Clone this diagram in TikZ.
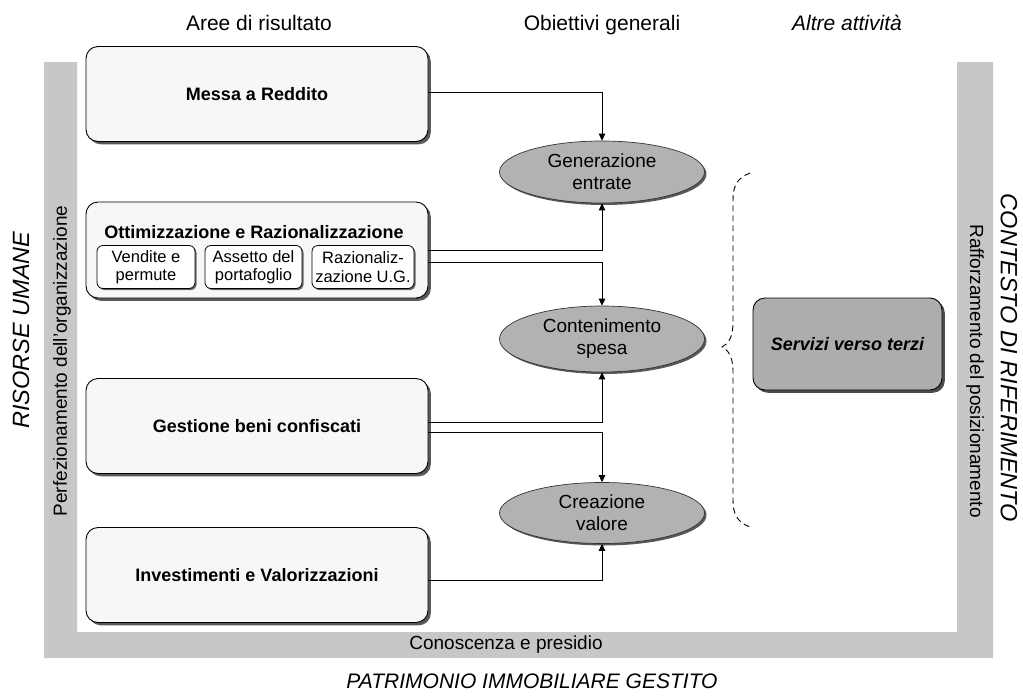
\documentclass[tikz,border=0pt]{standalone}
\usepackage{fontspec}
\setmainfont{Liberation Sans}
\usetikzlibrary{shapes.geometric,arrows.meta,shadows,calc}
\definecolor{bandgray}{gray}{0.78}
\definecolor{ellgray}{gray}{0.70}
\definecolor{boxgray}{gray}{0.68}
\definecolor{boxwhite}{gray}{0.97}
\tikzset{
  area/.style={draw=black, line width=0.9pt, rounded corners=12pt, fill=boxwhite,
    minimum width=342pt, inner sep=0pt,
    drop shadow={shadow xshift=2.8pt, shadow yshift=-2.8pt, fill=black!65, opacity=1},
    font=\fontsize{18}{20}\selectfont\bfseries},
  subbox/.style={draw=black, line width=0.8pt, rounded corners=6pt, fill=white,
    minimum height=43pt, inner sep=0pt, align=center,
    drop shadow={shadow xshift=1.6pt, shadow yshift=-1.6pt, fill=black!60, opacity=1},
    font=\fontsize{16.5}{18.5}\selectfont},
  goal/.style={ellipse, draw=black!80, line width=0.7pt, fill=ellgray, minimum width=205pt,
    inner sep=0pt, align=center,
    drop shadow={shadow xshift=2pt, shadow yshift=-2pt, fill=black!65, opacity=1},
    font=\fontsize{19}{22}\selectfont},
  header/.style={anchor=base, font=\fontsize{21}{23}\selectfont},
  side/.style={font=\fontsize{23.5}{26}\selectfont\itshape},
  bandtext/.style={font=\fontsize{19}{21}\selectfont},
  conn/.style={draw=black, line width=1pt, -{Triangle[length=7pt,width=6.5pt]}},
  bracket/.style={draw=black, line width=0.9pt, dash pattern=on 6pt off 4pt}
}
\begin{document}
\begin{tikzpicture}[x=1pt,y=-1pt]
\useasboundingbox (0,0) rectangle (1023,697);
\fill[white] (0,0) rectangle (1023,697);
% U-shaped band
\fill[bandgray] (44,62) -- (77,62) -- (77,632) -- (957,632) -- (957,62) -- (993,62) -- (993,658) -- (44,658) -- cycle;
\node[bandtext, rotate=90] (perf) at (62,361) {Perfezionamento dell'organizzazione};
\node[bandtext, rotate=-90] (raff) at (975,371) {Rafforzamento del posizionamento};
\node[bandtext] (cono) at (506,645) {Conoscenza e presidio};
\node[side, rotate=90] (risorse) at (21,330) {RISORSE UMANE};
\node[side, rotate=-90] (contesto) at (1009,358) {CONTESTO DI RIFERIMENTO};
\node[side, font=\fontsize{21}{23}\selectfont\itshape] (patr) at (532,681) {PATRIMONIO IMMOBILIARE GESTITO};
% headers
\node[header] (h1) at (259,30) {Aree di risultato};
\node[header] (h2) at (602,30) {Obiettivi generali};
\node[header, font=\fontsize{21}{23}\selectfont\itshape] (h3) at (847,30) {Altre attività};
% area boxes
\node[area, minimum height=95pt] (messa) at (257,94) {Messa a Reddito};
\node[area, minimum height=96pt] (ott) at (257,250) {};
\node[font=\fontsize{18}{20}\selectfont\bfseries] (otttitle) at (254,232) {Ottimizzazione e Razionalizzazione};
\node[subbox, minimum width=98pt] (vend) at (146,267) {Vendite e\\permute};
\node[subbox, minimum width=97pt] (asset) at (253.5,267) {Assetto del\\portafoglio};
\node[subbox, minimum width=102pt] (razio) at (363,267) {Razionaliz-\\zazione U.G.};
\node[area, minimum height=95pt] (gest) at (257,426) {Gestione beni confiscati};
\node[area, minimum height=95pt] (inv) at (257,575) {Investimenti e Valorizzazioni};
% goals
\node[goal, minimum height=62pt] (gen) at (602,172) {Generazione\\entrate};
\node[goal, minimum height=66pt] (cont) at (602,339) {Contenimento\\spesa};
\node[goal, minimum height=61pt] (crea) at (602,513) {Creazione\\valore};
% other activities
\node[draw=black, line width=0.9pt, rounded corners=12pt, fill=boxgray,
  minimum width=189pt, minimum height=92pt,
  drop shadow={shadow xshift=2.8pt, shadow yshift=-2.8pt, fill=black!70, opacity=1},
  font=\fontsize{18}{20}\selectfont\bfseries\itshape] (serv) at (847.5,344) {Servizi verso terzi};
% connectors
\draw[conn] ($(messa.east)+(0,-2)$) -| (gen.north);
\draw[conn] (ott.east) -| (gen.south);
\draw[conn] ($(ott.east)+(0,12)$) -| (cont.north);
\draw[conn] ($(gest.east)+(0,-4)$) -| (cont.south);
\draw[conn] ($(gest.east)+(0,6)$) -| (crea.north);
\draw[conn] ($(inv.east)+(0,5)$) -| (crea.south);
% dashed brace
\coordinate (bt) at (750,173);
\coordinate (bm) at (722,347);
\coordinate (bb) at (750,527);
\draw[bracket] (bt) .. controls (737,178) and (733,186) .. (733,200) -- (733,322)
  .. controls (733,338) and (728,344) .. (bm)
  .. controls (728,350) and (733,356) .. (733,372) -- (733,500)
  .. controls (733,514) and (737,522) .. (bb);
\end{tikzpicture}
\end{document}
